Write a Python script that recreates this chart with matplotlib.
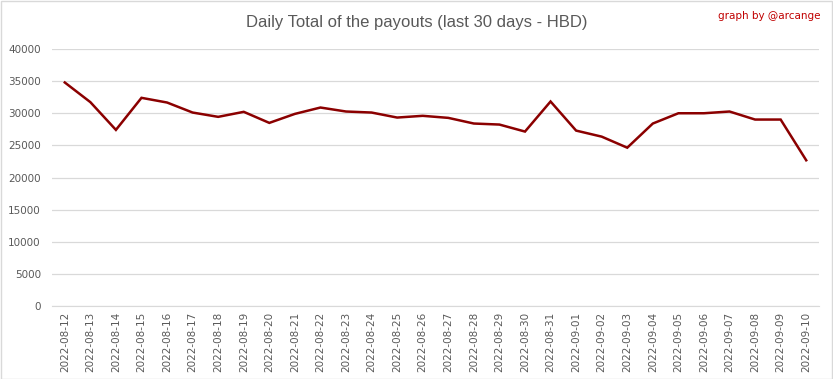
import matplotlib
matplotlib.use("Agg")
import matplotlib.pyplot as plt
from matplotlib.patches import Rectangle

dates = ["2022-08-12", "2022-08-13", "2022-08-14", "2022-08-15", "2022-08-16",
         "2022-08-17", "2022-08-18", "2022-08-19", "2022-08-20", "2022-08-21",
         "2022-08-22", "2022-08-23", "2022-08-24", "2022-08-25", "2022-08-26",
         "2022-08-27", "2022-08-28", "2022-08-29", "2022-08-30", "2022-08-31",
         "2022-09-01", "2022-09-02", "2022-09-03", "2022-09-04", "2022-09-05",
         "2022-09-06", "2022-09-07", "2022-09-08", "2022-09-09", "2022-09-10"]
payouts = [34790, 31730, 27410, 32400, 31670, 30110, 29440, 30220, 28500, 29900,
           30890, 30270, 30110, 29330, 29600, 29280, 28400, 28240, 27150, 31830,
           27300, 26360, 24640, 28400, 30000, 30000, 30270, 29020, 29020, 22680]
yticks = [0, 5000, 10000, 15000, 20000, 25000, 30000, 35000, 40000]

W, H = 833, 379
fig = plt.figure(figsize=(W / 100, H / 100), dpi=100)
fig.patches.append(Rectangle((0.5 / W, 0.5 / H), 1 - 1.5 / W, 1 - 1.5 / H,
                             transform=fig.transFigure, fill=False,
                             edgecolor="#d9d9d9", linewidth=1))

ax = fig.add_axes([52 / W, 1 - 306 / H, (819 - 52) / W, (306 - 49) / H])
x = list(range(len(dates)))
ax.plot(x, payouts, color="#8b0000", linewidth=1.8, solid_joinstyle="miter", zorder=3)

ax.set_xlim(-0.5, len(dates) - 0.5)
ax.set_ylim(0, 40000)
ax.set_yticks(yticks)
ax.set_yticklabels([str(v) for v in yticks])
ax.set_xticks(x)
ax.set_xticklabels(dates, rotation=90)
ax.grid(axis="y", color="#d9d9d9", linewidth=0.9)
ax.set_axisbelow(True)
for s in ["top", "right", "left"]:
    ax.spines[s].set_visible(False)
ax.spines["bottom"].set_color("#d9d9d9")
ax.tick_params(axis="both", length=0, colors="#595959", labelsize=7.5)
ax.tick_params(axis="y", pad=8)
ax.tick_params(axis="x", pad=4)

fig.text(0.5, 1 - 23 / H, "Daily Total of the payouts (last 30 days - HBD)",
         ha="center", va="center", fontsize=12, color="#595959",
         family="Liberation Sans")
fig.text(820 / W, 1 - 16 / H, "graph by @arcange", ha="right", va="center",
         fontsize=7.5, color="#c00000")

fig.savefig("out.png", dpi=100)
